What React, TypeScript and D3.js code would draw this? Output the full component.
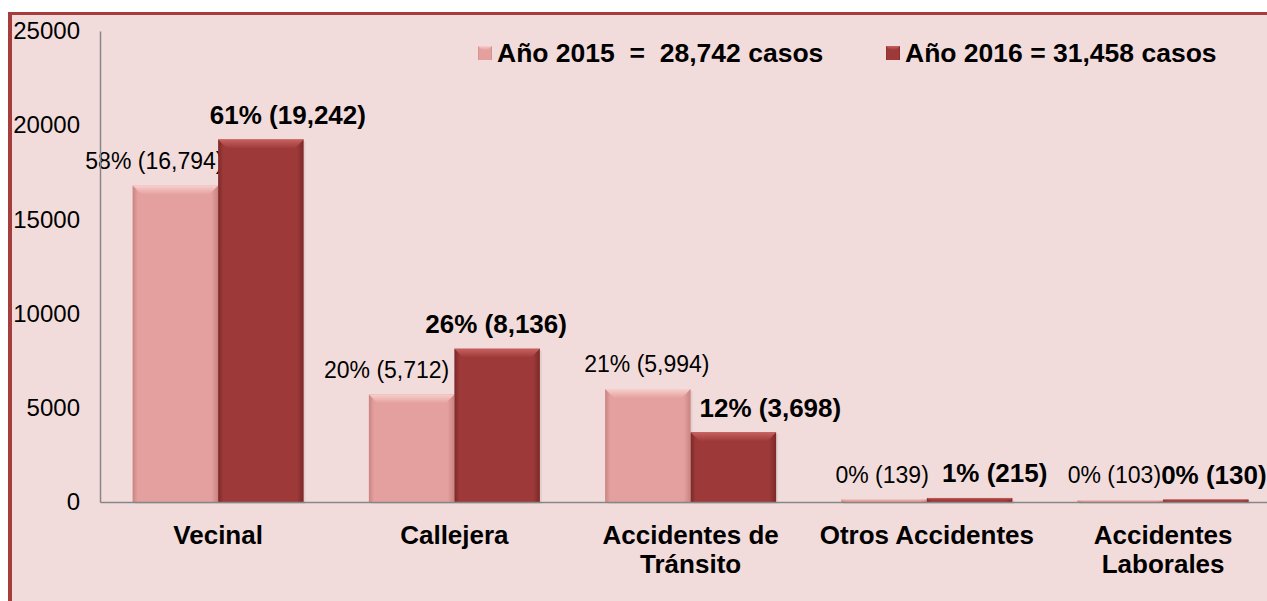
import React, { useEffect, useRef } from "react";
import * as d3 from "d3";

const categories = [
  "Vecinal", "Callejera", "Accidentes de Tránsito", "Otros Accidentes", "Accidentes Laborales"
];
const categoryLines = [
  ["Vecinal"], ["Callejera"], ["Accidentes de", "Tránsito"], ["Otros Accidentes"], ["Accidentes", "Laborales"]
];
const series = ["2015", "2016"];
const values2015 = [16794, 5712, 5994, 139, 103];
const values2016 = [19242, 8136, 3698, 215, 130];
const pct2015 = [58, 20, 21, 0, 0];
const pct2016 = [61, 26, 12, 1, 0];
const yTicks = [0, 5000, 10000, 15000, 20000, 25000];
const legendLabels = ["Año 2015  =  28,742 casos", "Año 2016 = 31,458 casos"];

// label nudges (px), the original labels were dragged by hand
const labelDx2015 = [-21, -25, -1, -2, -6];
const labelDx2016 = [27, -1, 37, 25, 8];

const W = 1267;
const H = 601;
const FONT = "'Liberation Sans', Arial, sans-serif";

const App = () => {
  const ref = useRef<SVGSVGElement>(null);

  useEffect(() => {
    const svg = d3.select(ref.current);
    svg.selectAll("*").remove();

    const plot = { left: 100, top: 31, bottom: 502 };

    const x = d3.scaleBand<string>()
      .domain(categories)
      .range([plot.left, plot.left + 5 * 236.25])
      .paddingInner(0.276)
      .paddingOuter(0.138);

    const xs = d3.scaleBand<string>().domain(series).range([0, x.bandwidth()]);

    const y = d3.scaleLinear().domain([0, 25000]).range([plot.bottom, plot.top]);

    const color: Record<string, { body: string; light: string; dark: string }> = {
      "2015": { body: "#E4A09E", light: "#F7CFCD", dark: "#C98482" },
      "2016": { body: "#9D3A39", light: "#C8615F", dark: "#7C2828" },
    };

    const defs = svg.append("defs");
    series.forEach((s) => {
      const g = defs.append("linearGradient").attr("id", "side" + s)
        .attr("x1", 0).attr("x2", 1).attr("y1", 0).attr("y2", 0);
      g.append("stop").attr("offset", "0").attr("stop-color", color[s].dark);
      g.append("stop").attr("offset", "0.06").attr("stop-color", color[s].body);
      g.append("stop").attr("offset", "0.92").attr("stop-color", color[s].body);
      g.append("stop").attr("offset", "1").attr("stop-color", color[s].dark);
      const t = defs.append("linearGradient").attr("id", "top" + s)
        .attr("x1", 0).attr("x2", 0).attr("y1", 0).attr("y2", 1);
      t.append("stop").attr("offset", "0").attr("stop-color", color[s].light);
      t.append("stop").attr("offset", "1").attr("stop-color", color[s].body);
    });

    // background + frame
    svg.append("rect").attr("x", 10).attr("y", 13).attr("width", W).attr("height", H)
      .attr("fill", "#F2DCDB");
    svg.append("line").attr("x1", 8).attr("x2", W).attr("y1", 13.5).attr("y2", 13.5)
      .attr("stroke", "#A63D3D").attr("stroke-width", 3);
    svg.append("line").attr("x1", 10).attr("x2", 10).attr("y1", 12).attr("y2", H)
      .attr("stroke", "#A63D3D").attr("stroke-width", 4);

    const rows = categories.map((c, i) => ({
      cat: c, i,
      bars: [
        { s: "2015", v: values2015[i], pct: pct2015[i], dx: labelDx2015[i] },
        { s: "2016", v: values2016[i], pct: pct2016[i], dx: labelDx2016[i] },
      ],
    }));

    // bars
    const groups = svg.selectAll(".cat").data(rows).enter().append("g")
      .attr("transform", (d) => `translate(${x(d.cat)},0)`);

    const bar = groups.selectAll(".bar").data((d) => d.bars).enter().append("g");

    bar.append("rect")
      .attr("x", (d) => xs(d.s)! + 2)
      .attr("y", (d) => y(d.v) + 2)
      .attr("width", xs.bandwidth())
      .attr("height", (d) => plot.bottom - y(d.v))
      .attr("fill", "#000").attr("opacity", 0.06);

    bar.append("rect")
      .attr("x", (d) => xs(d.s)!)
      .attr("y", (d) => y(d.v))
      .attr("width", xs.bandwidth())
      .attr("height", (d) => plot.bottom - y(d.v))
      .attr("fill", (d) => `url(#side${d.s})`);

    bar.append("path")
      .attr("d", (d) => {
        const x0 = xs(d.s)!;
        const x1 = x0 + xs.bandwidth();
        const top = y(d.v);
        const b = Math.min(9, (plot.bottom - top) / 2);
        return `M${x0},${top}L${x1},${top}L${x1 - b},${top + b}L${x0 + b},${top + b}Z`;
      })
      .attr("fill", (d) => `url(#top${d.s})`);

    // value labels
    bar.append("text")
      .attr("x", (d) => xs(d.s)! + xs.bandwidth() / 2 + d.dx)
      .attr("y", (d) => y(d.v) - 25)
      .attr("dy", "0.36em")
      .attr("text-anchor", "middle")
      .style("font-family", FONT)
      .style("font-size", (d) => (d.s === "2015" ? "23px" : "26px"))
      .style("font-weight", (d) => (d.s === "2015" ? "normal" : "bold"))
      .attr("fill", "#000")
      .text((d) => `${d.pct}% (${d3.format(",")(d.v)})`);

    // Y axis
    const yAxis = svg.append("g")
      .attr("transform", `translate(${plot.left},0)`)
      .call(d3.axisLeft(y).tickValues(yTicks).tickSize(0).tickPadding(20).tickFormat(d3.format("d")));
    yAxis.select(".domain").attr("stroke", "#868686").attr("stroke-width", 1.5);
    yAxis.selectAll("text")
      .style("font-family", FONT).style("font-size", "24px").attr("fill", "#000");

    // X axis
    const xAxis = svg.append("g")
      .attr("transform", `translate(0,${plot.bottom})`)
      .call(d3.axisBottom(x).tickSize(0).tickFormat(() => ""));
    xAxis.select(".domain").attr("stroke", "#868686").attr("stroke-width", 1.5);

    const catText = svg.selectAll(".catlabel").data(rows).enter().append("text")
      .attr("text-anchor", "middle")
      .style("font-family", FONT).style("font-size", "26px").style("font-weight", "bold")
      .attr("fill", "#000");
    catText.selectAll("tspan").data((d) => categoryLines[d.i].map((l) => ({ l, cx: x(d.cat)! + x.bandwidth() / 2 })))
      .enter().append("tspan")
      .attr("x", (d) => d.cx)
      .attr("y", (d, i) => 544 + i * 29)
      .text((d) => d.l);

    // Legend
    const legendX = [478, 886];
    const legend = svg.selectAll(".legend").data(series).enter().append("g")
      .attr("transform", (d, i) => `translate(${legendX[i]},46)`);
    legend.append("rect").attr("width", 14).attr("height", 14)
      .attr("fill", (d) => `url(#side${d})`);
    legend.append("path").attr("d", "M0,0L14,0L10,4L4,4Z").attr("fill", (d) => `url(#top${d})`);
    legend.append("text")
      .attr("x", 19).attr("y", 16)
      .style("font-family", FONT).style("font-size", "26.5px").style("font-weight", "bold")
      .style("white-space", "pre")
      .attr("fill", "#000")
      .text((d, i) => legendLabels[i]);
  }, []);

  return (
    <svg
      ref={ref}
      width={W}
      height={H}
      style={{ position: "absolute", left: 0, top: 0, display: "block", background: "#fff" }}
    ></svg>
  );
};

export default App;
